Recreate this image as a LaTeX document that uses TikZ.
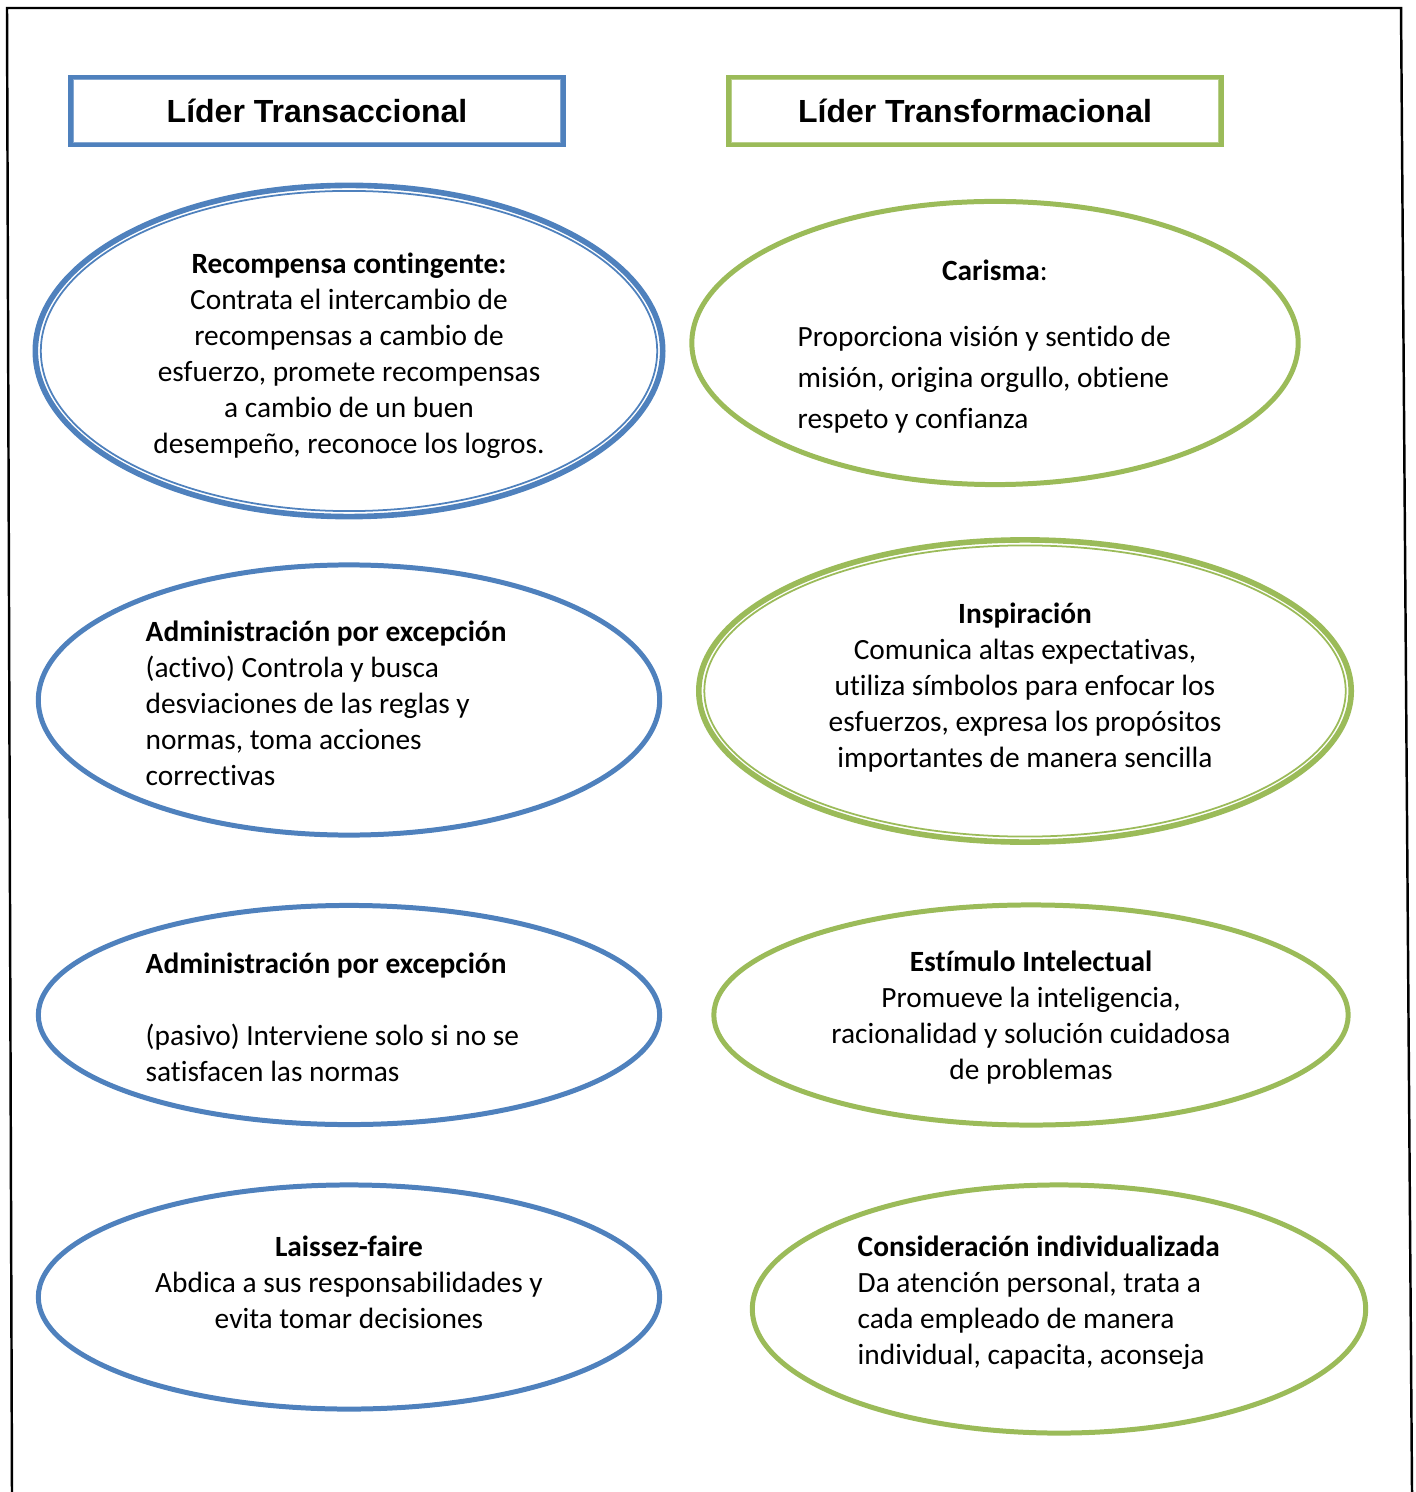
\documentclass[tikz,border=0pt]{standalone}
\usepackage{fontspec}
\setmainfont{Carlito}[Ligatures={NoCommon}]
\newfontfamily\headfont{Liberation Sans}
\usetikzlibrary{positioning,shapes.geometric}
\definecolor{transblue}{HTML}{4F81BD}
\definecolor{transgreen}{HTML}{9BBB59}

\begin{document}
\begin{tikzpicture}[x=0.01cm,y=-0.01cm,
    headbox/.style={draw=#1,line width=1.4pt,minimum width=4.92cm,minimum height=0.675cm,
      inner sep=0pt,font=\headfont\bfseries\fontsize{9.1}{11}\selectfont},
    oval/.style={ellipse,draw=#1,line width=1.42pt,inner sep=0pt},
    body/.style={inner sep=0pt,font=\fontsize{8.35}{10.24}\selectfont}]
  \useasboundingbox (0,0) rectangle (1415,1492);
  % page frame
  \draw[line width=0.7pt] (12,1492) -- (7,8) -- (1401,8) -- (1412,1492);

  % headers
  \node[headbox=transblue] (hTrans) at (317,111) {Líder Transaccional};
  \draw[transblue!70,line width=0.4pt] ([shift={(5,5)}]hTrans.north west) rectangle ([shift={(-5,-5)}]hTrans.south east);
  \node[headbox=transgreen] (hTransf) at (975,111) {Líder Transformacional};
  \draw[transgreen!70,line width=0.4pt] ([shift={(5,5)}]hTransf.north west) rectangle ([shift={(-5,-5)}]hTransf.south east);

  % left column
  \node[oval=transblue,line width=1.6pt,minimum width=6.27cm,minimum height=3.31cm] (recomp) at (349,351) {};
  \node[oval=transblue,line width=0.5pt,minimum width=6.16cm,minimum height=3.20cm] (recompIn) at (recomp) {};
  \node[body,align=center] (recompTxt) at (349,356) {\textbf{Recompensa contingente:}\\Contrata el intercambio de\\recompensas a cambio de\\esfuerzo, promete recompensas\\a cambio de un buen\\desempeño, reconoce los logros.};

  \node[oval=transblue,minimum width=6.21cm,minimum height=2.70cm] (activo) at (349,700) {};
  \node[body,align=left,anchor=west] (activoTxt) at (145,703) {\textbf{Administración por excepción}\\(activo) Controla y busca\\desviaciones de las reglas y\\normas, toma acciones\\correctivas};

  \node[oval=transblue,minimum width=6.21cm,minimum height=2.19cm] (pasivo) at (349,1015) {};
  \node[body,align=left,anchor=west] (pasivoTxt) at (145,1017) {\textbf{Administración por excepción}\\[10.24pt](pasivo) Interviene solo si no se\\satisfacen las normas};

  \node[oval=transblue,minimum width=6.21cm,minimum height=2.24cm] (laissez) at (349,1297) {};
  \node[body,align=center] (laissezTxt) at (349,1282) {\textbf{Laissez-faire}\\Abdica a sus responsabilidades y\\evita tomar decisiones};

  % right column
  \node[oval=transgreen,minimum width=6.06cm,minimum height=2.83cm] (carisma) at (995,343) {};
  \node[body] (carismaTit) at (995,270) {\textbf{Carisma}:};
  \node[body,align=left,anchor=west,font=\fontsize{8.35}{11.66}\selectfont] (carismaTxt) at (797,380) {Proporciona visión y sentido de\\misión, origina orgullo, obtiene\\respeto y confianza};

  \node[oval=transgreen,line width=1.6pt,minimum width=6.52cm,minimum height=3.02cm] (inspira) at (1025,691) {};
  \node[oval=transgreen,line width=0.5pt,minimum width=6.41cm,minimum height=2.91cm] (inspiraIn) at (inspira) {};
  \node[body,align=center] (inspiraTxt) at (1025,688) {\textbf{Inspiración}\\Comunica altas expectativas,\\utiliza símbolos para enfocar los\\esfuerzos, expresa los propósitos\\importantes de manera sencilla};

  \node[oval=transgreen,minimum width=6.34cm,minimum height=2.20cm] (estimulo) at (1031,1015) {};
  \node[body,align=center] (estimuloTxt) at (1031,1018) {\textbf{Estímulo Intelectual}\\Promueve la inteligencia,\\racionalidad y solución cuidadosa\\de problemas};

  \node[oval=transgreen,minimum width=6.13cm,minimum height=2.48cm] (consid) at (1059,1309) {};
  \node[body,align=left,anchor=west] (considTxt) at (857,1303) {\textbf{Consideración individualizada}\\Da atención personal, trata a\\cada empleado de manera\\individual, capacita, aconseja};
\end{tikzpicture}
\end{document}
